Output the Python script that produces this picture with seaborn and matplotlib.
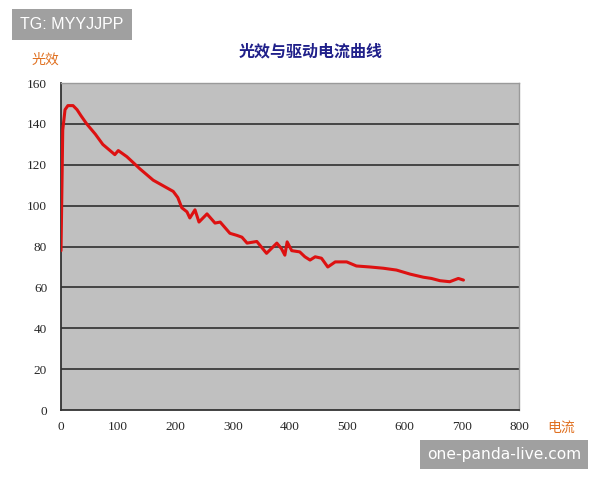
import matplotlib
matplotlib.use('Agg')
import matplotlib.pyplot as plt
import seaborn as sb
import pandas as pd

# 电流 (mA) vs 光效 (lm/W)
current = [0, 2, 3, 7, 12, 21, 28, 35, 45, 60, 73, 94, 100, 115, 138, 161, 196, 204, 211,
           220, 225, 234, 241, 255, 269, 278, 295, 307, 316, 325, 342, 359, 377, 385,
           391, 395, 403, 417, 426, 435, 444, 455, 466, 479, 499, 516, 540, 563, 586,
           610, 633, 647, 662, 679, 694, 703]
efficacy = [78, 117, 137, 147, 149, 149, 147, 144, 140, 135, 130, 125, 127, 124, 118, 112.5,
            107, 104, 99, 97, 94, 98, 92, 96, 91.5, 92, 86.5, 85.5, 84.6, 81.7, 82.5,
            76.7, 81.7, 79, 75.8, 82.3, 78, 77.4, 75, 73.4, 75, 74.3, 70, 72.5, 72.5,
            70.5, 70, 69.4, 68.5, 66.5, 65, 64.4, 63.3, 62.8, 64.4, 63.6]

x_ticks = [0, 100, 200, 300, 400, 500, 600, 700, 800]
y_ticks = [0, 20, 40, 60, 80, 100, 120, 140, 160]

df = pd.DataFrame({'current': current, 'efficacy': efficacy})

sb.set_style('white')
plt.rcParams['font.family'] = ['Noto Sans CJK SC', 'DejaVu Sans']

fig = plt.figure(figsize=(6, 4.8), dpi=100)
ax = fig.add_axes([0.1017, 0.1458, 0.7633, 0.681])
ax.set_facecolor('#c0c0c0')

for v in y_ticks[1:-1]:
    ax.axhline(v, color='#3a3a3a', lw=1.3, zorder=1)

sb.lineplot(data=df, x='current', y='efficacy', ax=ax, color='#dd1111', lw=2.2, zorder=3)

ax.set_xlim(0, 800)
ax.set_ylim(0, 160)
ax.set_xticks(x_ticks)
ax.set_yticks(y_ticks)
ax.set_xticklabels([str(t) for t in x_ticks], family='Liberation Serif', fontsize=9.5)
ax.set_yticklabels([str(t) for t in y_ticks], family='Liberation Serif', fontsize=9.5)
ax.tick_params(axis='x', direction='in', length=3, pad=8, color='#333333')
ax.tick_params(axis='y', length=0, pad=10)
ax.set_xlabel('')
ax.set_ylabel('')

for side in ['left', 'bottom']:
    ax.spines[side].set_color('#333333')
    ax.spines[side].set_linewidth(1.3)
for side in ['top', 'right']:
    ax.spines[side].set_color('#9a9a9a')
    ax.spines[side].set_linewidth(1.0)

fig.text(0.517, 0.892, '光效与驱动电流曲线', color='#20208a', fontsize=11.5,
         fontweight='bold', ha='center', va='center')
fig.text(0.075, 0.875, '光效', color='#e07020', fontsize=10, ha='center', va='center')
fig.text(0.935, 0.108, '电流', color='#e07020', fontsize=10, ha='center', va='center')

fig.text(0.12, 0.948, 'TG: MYYJJPP', color='white', fontsize=11.5, ha='center',
         va='center', family='Liberation Sans',
         bbox=dict(boxstyle='square,pad=0.5', fc='#a0a0a0', ec='none'))
fig.text(0.84, 0.053, 'one-panda-live.com', color='white', fontsize=11.2, ha='center',
         va='center', family='DejaVu Sans',
         bbox=dict(boxstyle='square,pad=0.45', fc='#a0a0a0', ec='none'))

plt.savefig('out.png', dpi=100)
